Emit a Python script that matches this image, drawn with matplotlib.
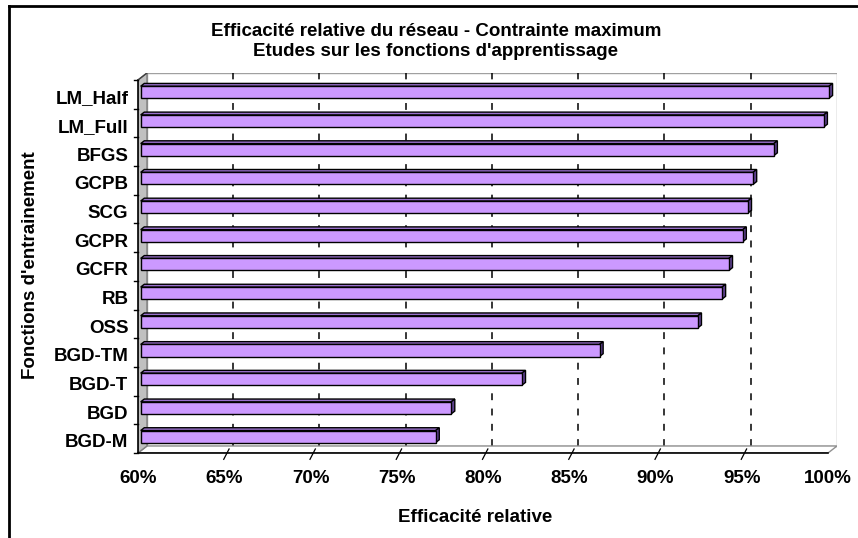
import matplotlib
matplotlib.use("Agg")
import matplotlib.pyplot as plt
from matplotlib.patches import Polygon
from matplotlib.lines import Line2D

plt.rcParams['font.family'] = ['Liberation Sans', 'DejaVu Sans']
plt.rcParams['font.weight'] = 'bold'

# Données (de bas en haut)
fonctions = ['BGD-M', 'BGD', 'BGD-T', 'BGD-TM', 'OSS', 'RB', 'GCFR',
             'GCPR', 'SCG', 'GCPB', 'BFGS', 'LM_Full', 'LM_Half']
efficacite = [77.1, 78.0, 82.1, 86.6, 92.3, 93.7, 94.1,
              94.9, 95.2, 95.5, 96.7, 99.6, 99.9]
graduations = [60, 65, 70, 75, 80, 85, 90, 95, 100]
etiquettes = ['60%', '65%', '70%', '75%', '80%', '85%', '90%', '95%', '100%']

# décalage de profondeur (effet 3D façon Excel), en unités de données
DX = 0.52
DY = 0.244
n = len(fonctions)
XMIN, XMAX = 60, 100

W, H = 858, 538
fig = plt.figure(figsize=(W / 100, H / 100), dpi=100)
ax = fig.add_axes([138 / W, (H - 453) / H, (837 - 138) / W, (453 - 73) / H])
ax.set_xlim(XMIN, XMAX + DX)
ax.set_ylim(0, n + DY)
ax.set_frame_on(False)

# paroi du fond
ax.add_patch(Polygon([(XMIN + DX, DY), (XMAX + DX, DY), (XMAX + DX, n + DY), (XMIN + DX, n + DY)],
                     closed=True, facecolor='white', edgecolor='#a0a0a0', lw=1, zorder=1))
# quadrillage vertical
for g in graduations[1:-1]:
    ax.plot([g + DX, g + DX], [DY, n + DY], color='black', lw=1.1,
            linestyle=(0, (4.5, 5.5)), zorder=2)
# sol
ax.add_patch(Polygon([(XMIN, 0), (XMAX, 0), (XMAX + DX, DY), (XMIN + DX, DY)],
                     closed=True, facecolor='white', edgecolor='#909090', lw=1, zorder=2))
# paroi latérale
ax.add_patch(Polygon([(XMIN, 0), (XMIN + DX, DY), (XMIN + DX, n + DY), (XMIN, n)],
                     closed=True, facecolor='#c0c0c0', edgecolor='#808080', lw=1, zorder=3))

# barres 3D
f0, f1 = 0.3, 0.7
h = 0.42
for i, v in enumerate(efficacite):
    bas = i + 0.5 - h / 2
    haut = i + 0.5 + h / 2
    face = [(XMIN + f0 * DX, bas + f0 * DY), (v + f0 * DX, bas + f0 * DY),
            (v + f0 * DX, haut + f0 * DY), (XMIN + f0 * DX, haut + f0 * DY)]
    dessus = [(XMIN + f0 * DX, haut + f0 * DY), (v + f0 * DX, haut + f0 * DY),
              (v + f1 * DX, haut + f1 * DY), (XMIN + f1 * DX, haut + f1 * DY)]
    bout = [(v + f0 * DX, bas + f0 * DY), (v + f1 * DX, bas + f1 * DY),
            (v + f1 * DX, haut + f1 * DY), (v + f0 * DX, haut + f0 * DY)]
    ax.add_patch(Polygon(dessus, closed=True, facecolor='#9970cc', edgecolor='black', lw=1, zorder=4))
    ax.add_patch(Polygon(bout, closed=True, facecolor='#5f4290', edgecolor='black', lw=1, zorder=4))
    ax.add_patch(Polygon(face, closed=True, facecolor='#cc99ff', edgecolor='black', lw=1, zorder=5))

# axes avant
ax.plot([XMIN, XMIN], [0, n], color='black', lw=1.2, zorder=6, clip_on=False)
ax.plot([XMIN, XMIN + DX], [n, n + DY], color='#404040', lw=1, zorder=6)
ax.plot([XMIN, XMAX], [0, 0], color='black', lw=1.2, zorder=6, clip_on=False)
# petites graduations
for k in range(n + 1):
    ax.plot([XMIN - 0.22, XMIN], [k, k], color='black', lw=1, clip_on=False, zorder=6)
for g in graduations[1:-1]:
    ax.plot([g - 0.03, g + 0.28], [-0.22, 0.14], color='black', lw=0.9, clip_on=False, zorder=6)

ax.set_xticks(graduations)
ax.set_xticklabels(etiquettes)
ax.set_yticks([i + 0.42 for i in range(n)])
ax.set_yticklabels(fonctions)
ax.tick_params(axis='x', length=0, pad=12, labelsize=13.5)
ax.tick_params(axis='y', length=0, pad=7, labelsize=13.5)

fig.text(0.508, 1 - 32 / H, "Efficacité relative du réseau - Contrainte maximum",
         ha='center', va='center', fontsize=13.5, fontweight='bold')
fig.text(0.508, 1 - 52 / H, "Etudes sur les fonctions d'apprentissage",
         ha='center', va='center', fontsize=13.5, fontweight='bold')
fig.text(475 / W, 1 - 518 / H, "Efficacité relative", ha='center', va='center',
         fontsize=13.5, fontweight='bold')
fig.text(31 / W, 1 - 265 / H, "Fonctions d'entrainement", ha='center', va='center',
         rotation=90, fontsize=13.5, fontweight='bold')

# cadre du graphique
fig.add_artist(Line2D([9 / W, 9 / W], [0, 1 - 6 / H], color='black', lw=2))
fig.add_artist(Line2D([9 / W, 1], [1 - 6 / H, 1 - 6 / H], color='black', lw=2))

fig.savefig('out.png', dpi=100)
